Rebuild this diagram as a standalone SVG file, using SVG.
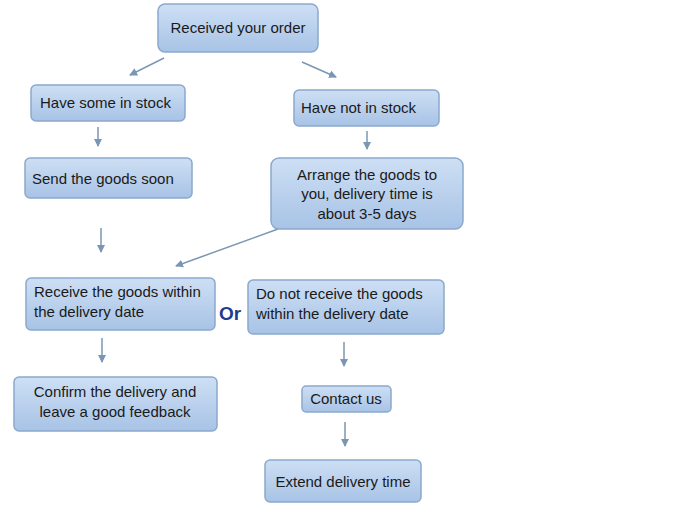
<svg xmlns="http://www.w3.org/2000/svg" width="694" height="516" viewBox="0 0 694 516">
<defs>
<linearGradient id="g" x1="0" y1="0" x2="0" y2="1"><stop offset="0" stop-color="#cddff4"/><stop offset="1" stop-color="#a8c3e6"/></linearGradient>
<marker id="ah" markerWidth="8" markerHeight="8" refX="7" refY="4" orient="auto" markerUnits="userSpaceOnUse"><path d="M0,0 L8,4 L0,8 z" fill="#7b96b3"/></marker>
</defs>
<style>
.b{fill:url(#g);stroke:#8ba9cd;stroke-width:1.5}
.t{font-family:"Liberation Sans",Arial,sans-serif;font-size:15px;fill:#1a1a1a}
.c line{stroke:#7b96b3;stroke-width:1.5;marker-end:url(#ah)}
</style>
<rect width="694" height="516" fill="#fff"/>
<g class="c">
<line x1="164" y1="58" x2="130" y2="75"/>
<line x1="302" y1="62" x2="336" y2="77"/>
<line x1="98" y1="127" x2="98" y2="146"/>
<line x1="367" y1="131" x2="367" y2="149"/>
<line x1="101" y1="228" x2="101" y2="252"/>
<line x1="278" y1="229" x2="176" y2="266"/>
<line x1="102" y1="338" x2="102" y2="362"/>
<line x1="344" y1="342" x2="344" y2="366"/>
<line x1="345" y1="422" x2="345" y2="446"/>
</g>
<g id="n1"><rect class="b" x="158" y="4" width="160" height="48" rx="7"/><text class="t" x="238" y="33" text-anchor="middle">Received your order</text></g>
<g id="n2"><rect class="b" x="31" y="85" width="154" height="36" rx="5"/><text class="t" x="40" y="108">Have some in stock</text></g>
<g id="n3"><rect class="b" x="294" y="90" width="145" height="36" rx="5"/><text class="t" x="301" y="113">Have not in stock</text></g>
<g id="n4"><rect class="b" x="25" y="158" width="167" height="40" rx="5"/><text class="t" x="32" y="184">Send the goods soon</text></g>
<g id="n5"><rect class="b" x="271" y="158" width="192" height="71" rx="8"/><text class="t" text-anchor="middle"><tspan x="367" y="180">Arrange the goods to</tspan><tspan x="367" y="199">you, delivery time is</tspan><tspan x="367" y="219">about 3-5 days</tspan></text></g>
<g id="n6"><rect class="b" x="26" y="278" width="189" height="52" rx="5"/><text class="t"><tspan x="34" y="297">Receive the goods within</tspan><tspan x="34" y="317">the delivery date</tspan></text></g>
<text x="219" y="320" font-family="Liberation Sans,Arial,sans-serif" font-size="19" font-weight="bold" fill="#1f3a8f">Or</text>
<g id="n7"><rect class="b" x="248" y="280" width="196" height="54" rx="5"/><text class="t"><tspan x="256" y="299">Do not receive the goods</tspan><tspan x="256" y="319">within the delivery date</tspan></text></g>
<g id="n8"><rect class="b" x="14" y="377" width="203" height="54" rx="5"/><text class="t" text-anchor="middle"><tspan x="115" y="397">Confirm the delivery and</tspan><tspan x="115" y="417">leave a good feedback</tspan></text></g>
<g id="n9"><rect class="b" x="302" y="386" width="89" height="26" rx="4"/><text class="t" x="346" y="404" text-anchor="middle">Contact us</text></g>
<g id="n10"><rect class="b" x="265" y="460" width="156" height="42" rx="5"/><text class="t" x="343" y="487" text-anchor="middle">Extend delivery time</text></g>
</svg>
